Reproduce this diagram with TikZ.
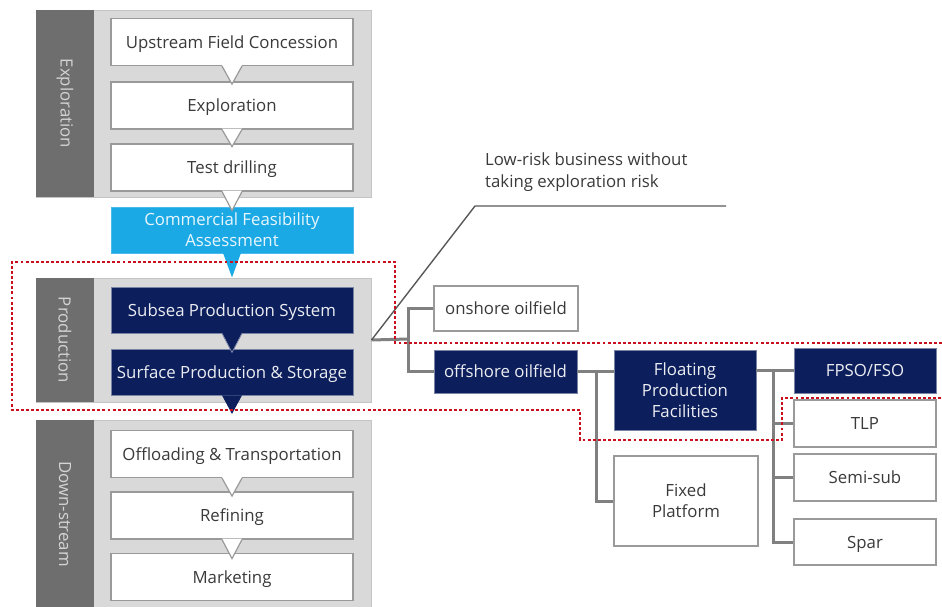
\documentclass[tikz,border=0pt]{standalone}
\usepackage{fontspec}
\setmainfont{Open Sans}
\usetikzlibrary{calc}
\definecolor{navy}{HTML}{0C1F5C}
\definecolor{skyb}{HTML}{1BA9E6}
\definecolor{secgray}{HTML}{D9D9D9}
\definecolor{secedge}{HTML}{C4C4C4}
\definecolor{strip}{HTML}{6E6E6E}
\definecolor{striptext}{HTML}{D4D4D4}
\definecolor{bgray}{HTML}{9A9A9A}
\definecolor{txt}{HTML}{3A3A3A}
\definecolor{conn}{HTML}{808080}
\definecolor{redd}{HTML}{C8101E}
\begin{document}
\begin{tikzpicture}[x=1pt,y=-1pt,
  f/.style={font=\fontsize{16.8}{21}\selectfont},
  secbox/.style={draw=secedge,fill=secgray,line width=1,inner sep=0},
  stripbox/.style={fill=strip,inner sep=0,text=striptext,f,rotate=-90},
  wbox/.style={draw=bgray,fill=white,line width=1.2,inner sep=0,text=txt,f,align=center,text depth=0,minimum width=242,minimum height=47},
  nbox/.style={draw=navy!55!white,fill=navy,line width=0.8,inner sep=0,text=white!92!navy,f,align=center,text depth=0,minimum width=242,minimum height=46},
  tbox/.style={draw=bgray,fill=white,line width=1.2,inner sep=0,text=txt,f,align=center,text depth=0},
  dbox/.style={draw=navy!55!white,fill=navy,line width=0.8,inner sep=0,text=white!92!navy,f,align=center,text depth=0},
  connl/.style={draw=conn,line width=3},
  calloutl/.style={draw=txt!85!white,line width=1.4},
  reddot/.style={draw=redd,line width=2.9,dash pattern=on 2.9pt off 2.2pt}
]
\useasboundingbox (0,0) rectangle (942,606);
% sections
\node[secbox,minimum width=335,minimum height=187] (expl) at (203.5,103.5) {};
\node[secbox,minimum width=335,minimum height=124] (prod) at (203.5,340) {};
\node[secbox,minimum width=335,minimum height=188] (down) at (203.5,514) {};
\node[stripbox,minimum width=187,minimum height=58] (s1) at (65,103.5) {Exploration};
\node[stripbox,minimum width=124,minimum height=58] (s2) at (65,340) {Production};
\node[stripbox,minimum width=188,minimum height=58] (s3) at (65,514) {Down-stream};
% exploration boxes
\node[wbox] (up) at (232,42) {Upstream Field Concession};
\node[wbox] (ex) at (232,105.5) {Exploration};
\node[wbox] (td) at (232,167.5) {Test drilling};
\node[draw=skyb!80!white,fill=skyb,line width=0.8,inner sep=0,text=white!90!skyb,f,align=center,text depth=0,minimum width=242,minimum height=46] (cfa) at (232,230) {Commercial Feasibility\\Assessment};
\node[nbox] (sub) at (232,310) {Subsea Production System};
\node[nbox] (sur) at (232,372.5) {Surface Production \& Storage};
\node[wbox] (off) at (232,454) {Offloading \& Transportation};
\node[wbox] (ref) at (232,515.5) {Refining};
\node[wbox] (mkt) at (232,577) {Marketing};
% pointers (white)
\foreach \n/\d in {up/18,ex/17,td/19,off/18,ref/19}{
  \fill[white] ($(\n.south)+(-10,-1)$) -- ($(\n.south)+(10,-1)$) -- ($(\n.south)+(0,\d)$) -- cycle;
  \draw[bgray,line width=1.2] ($(\n.south)+(-10,0)$) -- ($(\n.south)+(0,\d)$) -- ($(\n.south)+(10,0)$);
}
\fill[skyb] ($(cfa.south)+(-9,-0.5)$) -- ($(cfa.south)+(9,-0.5)$) -- ($(cfa.south)+(0,24)$) -- cycle;
\fill[navy] ($(sub.south)+(-10,-0.5)$) -- ($(sub.south)+(10,-0.5)$) -- ($(sub.south)+(0,19)$) -- cycle;
\draw[navy!55!white,line width=0.8] ($(sub.south)+(-10,0)$) -- ($(sub.south)+(0,19)$) -- ($(sub.south)+(10,0)$);
\fill[navy] ($(sur.south)+(-10,-0.5)$) -- ($(sur.south)+(10,-0.5)$) -- ($(sur.south)+(0,18)$) -- cycle;
% tree boxes
\node[tbox,minimum width=144,minimum height=45] (on) at (506,308.5) {onshore oilfield};
\node[dbox,minimum width=143,minimum height=43] (offs) at (505.5,371.5) {offshore oilfield};
\node[dbox,minimum width=142,minimum height=80] (flt) at (685,390) {Floating\\Production\\Facilities};
\node[tbox,minimum width=144,minimum height=90] (fix) at (686,501) {Fixed\\Platform};
\node[dbox,minimum width=142,minimum height=45] (fpso) at (865,370.5) {FPSO/FSO};
\node[tbox,minimum width=142,minimum height=47] (tlp) at (865,423.5) {TLP};
\node[tbox,minimum width=142,minimum height=47] (semi) at (865,477.5) {Semi-sub};
\node[tbox,minimum width=142,minimum height=46] (spar) at (865,542) {Spar};
% connectors
\coordinate (j1) at (408,339);
\coordinate (j2) at (596,371.5);
\coordinate (j3) at (773,370.5);
\draw[connl] (prod.east) -- (j1);
\draw[connl] (j1) |- (on.west);
\draw[connl] (j1) |- (offs.west);
\draw[connl] (offs.east) -- (offs.east -| flt.west);
\draw[connl] (j2) |- (fix.west);
\draw[connl] (flt.east |- fpso.west) -- (fpso.west);
\draw[connl] (j3) |- (tlp.west);
\draw[connl] (j3) |- (semi.west);
\draw[connl] (j3) |- (spar.west);
% callout
\coordinate (c1) at (475,206);
\coordinate (c2) at (726,206);
\draw[calloutl] (prod.east) -- (c1) -- (c2);
\node[anchor=north west,inner sep=0,text=txt,f,align=left] (note) at (485,153) {Low-risk business without\\[1pt]taking exploration risk};
% red dotted region
\draw[reddot] (942,343) -- (395,343) -- (395,262) -- (12,262) -- (12,410) -- (580,410) -- (580,440) -- (782,440) -- (782,398) -- (942,398);
\end{tikzpicture}
\end{document}
